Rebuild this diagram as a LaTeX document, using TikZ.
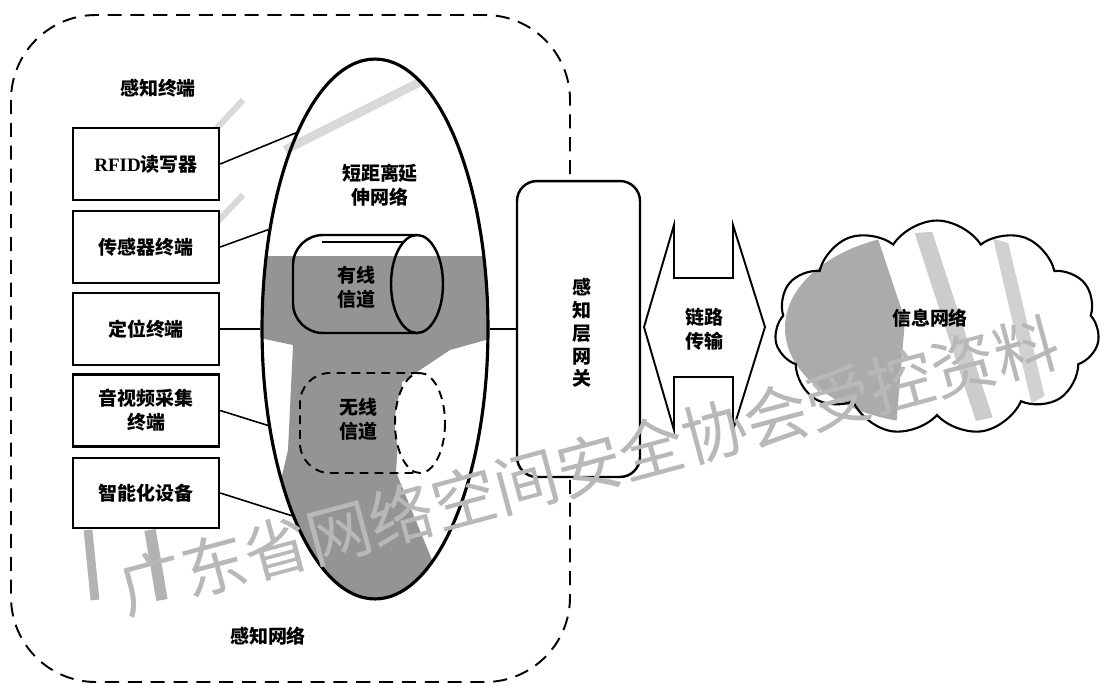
\documentclass[tikz,border=0pt]{standalone}
\usepackage{fontspec}
\setmainfont{Noto Sans CJK SC}
\newfontfamily\latfont{Liberation Serif}
\newfontfamily\wmfont{Noto Sans CJK SC}
\usetikzlibrary{shapes.geometric,shapes.symbols}
\tikzset{
  lbl/.style={font=\fontsize{10.8}{13.5}\selectfont\bfseries, align=center, inner sep=0pt},
  termbox/.style={draw, line width=1.4pt, minimum width=2.92cm, minimum height=1.44cm, inner sep=0pt, lbl},
  link/.style={line width=0.9pt},
  shadeA/.style={fill=black!42},
  shadeB/.style={fill=black!33},
  streak/.style={draw=black!15, line cap=butt},
  cyl/.style={line width=1.4pt},
  cloudsty/.style={cloud, cloud puffs=11, cloud puff arc=115, aspect=1.5, minimum width=6.5cm, minimum height=4.3cm, inner sep=0pt, line width=1.2pt}
}
\begin{document}
\begin{tikzpicture}[x=0.02cm, y=-0.02cm]
\useasboundingbox[fill=white] (0,0) rectangle (1102,684);

% light streaks (scan texture)
\draw[streak, line width=3.5pt] (217,128) -- (243,100);
\draw[streak, line width=3.5pt] (217,222) -- (243,195);
\draw[streak, line width=5pt] (285,150) -- (420,82);
\draw[streak, draw=black!30, line width=5pt] (88,530) -- (95,600);
\draw[streak, draw=black!30, line width=6.5pt] (150,530) -- (162,600);

% outer dashed region
\draw[line width=1.1pt, dash pattern=on 8pt off 5pt, rounded corners=1.7cm] (11,15) rectangle (570,682);

% shading inside the ellipse
\begin{scope}
  \clip (375,329) ellipse [x radius=113, y radius=270];
  \fill[shadeA] (250,256) -- (500,256) -- (500,336) -- (450,350) -- (402,382) -- (396,472) -- (432,560) -- (500,560) -- (500,620) -- (250,620) -- (250,480) -- (281,480) -- (288,450) -- (293,345) -- (250,336) -- cycle;
\end{scope}

% ellipse node: short-range extension network
\node[draw, ellipse, line width=1.8pt, minimum width=4.52cm, minimum height=10.8cm, inner sep=0pt] (net) at (375,329) {};
\node[lbl] (netlbl) at (380,185) {短距离延\\伸网络};

% wired channel cylinder
\draw[cyl, rounded corners=0.6cm] (417,235) -- (293,235) -- (293,333) -- (417,333);
\draw[cyl] (417,284) ellipse [x radius=26, y radius=49];
\draw[line width=0.8pt] (322,242) -- (405,242);
\node[lbl] (wired) at (356,287) {有线\\信道};

% wireless channel cylinder (dashed)
\fill[white] (420,423) ellipse [x radius=25, y radius=50];
\draw[line width=1.1pt, dash pattern=on 5pt off 3.5pt, rounded corners=0.6cm] (420,373) -- (300,373) -- (300,473) -- (420,473);
\draw[line width=1.1pt, dash pattern=on 5pt off 3.5pt] (420,423) ellipse [x radius=25, y radius=50];
\node[lbl] (wireless) at (358,419) {无线\\信道};

% terminal boxes
\node[lbl] (termlbl) at (158,88) {感知终端};
\node[termbox, fill=white] (rfid) at (146,164) {{\latfont\bfseries RFID}读写器};
\node[termbox, fill=white] (sensor) at (146,247) {传感器终端};
\node[termbox, fill=white] (pos) at (146,329) {定位终端};
\node[termbox, fill=white] (av) at (146,410.5) {音视频采集\\终端};
\node[termbox, fill=white, minimum height=1.40cm] (smart) at (146,493) {智能化设备};

\draw[link] (rfid.east) -- (net.112.7);
\draw[link] (sensor.east) -- (net.137.5);
\draw[link] (pos.east) -- (net.180);
\draw[link] (av.east) -- (net.222.8);
\draw[link] (smart.east) -- (net.246);

\node[lbl] (snlbl) at (268,636) {感知网络};

% gateway
\node[draw, line width=1.4pt, rounded corners=0.4cm, minimum width=2.46cm, minimum height=5.92cm, inner sep=0pt, fill=white] (gw) at (578.5,329) {};
\node[lbl, font=\fontsize{10.8}{13}\selectfont\bfseries] (gwlbl) at (582,333) {感\\知\\层\\网\\关};
\draw[link] (net.east) -- (gw.west);

% double arrow (link transmission)
\coordinate (ltip) at (644,327);
\coordinate (rtip) at (765,327);
\draw[line width=1.1pt, fill=white] (ltip) -- (674,225) -- (674,278) -- (733,278) -- (733,225) -- (rtip) -- (733,430) -- (733,377) -- (674,377) -- (674,430) -- cycle;
\node[lbl] (linklbl) at (704,329) {链路\\传输};

% cloud
\node[cloudsty, fill=white] (cloud) at (937,328) {};
\begin{scope}
  \clip (937,328) ellipse [x radius=152, y radius=96];
  \fill[shadeB] (760,230) -- (875,230) -- (905,320) -- (895,440) -- (760,440) -- cycle;
  \fill[black!20] (912,225) -- (930,225) -- (1000,440) -- (982,440) -- cycle;
  \fill[black!18] (990,225) -- (1004,225) -- (1055,440) -- (1040,440) -- cycle;
\end{scope}
\node[cloudsty, draw] (cloudo) at (cloud) {};
\node[lbl] (infolbl) at (930,318) {信息网络};

% watermark
\node[rotate=15, text=black!28, font=\wmfont\fontsize{36.8}{40}\selectfont, inner sep=0pt] (wm) at (589,465) {广东省网络空间安全协会受控资料};
\end{tikzpicture}
\end{document}
